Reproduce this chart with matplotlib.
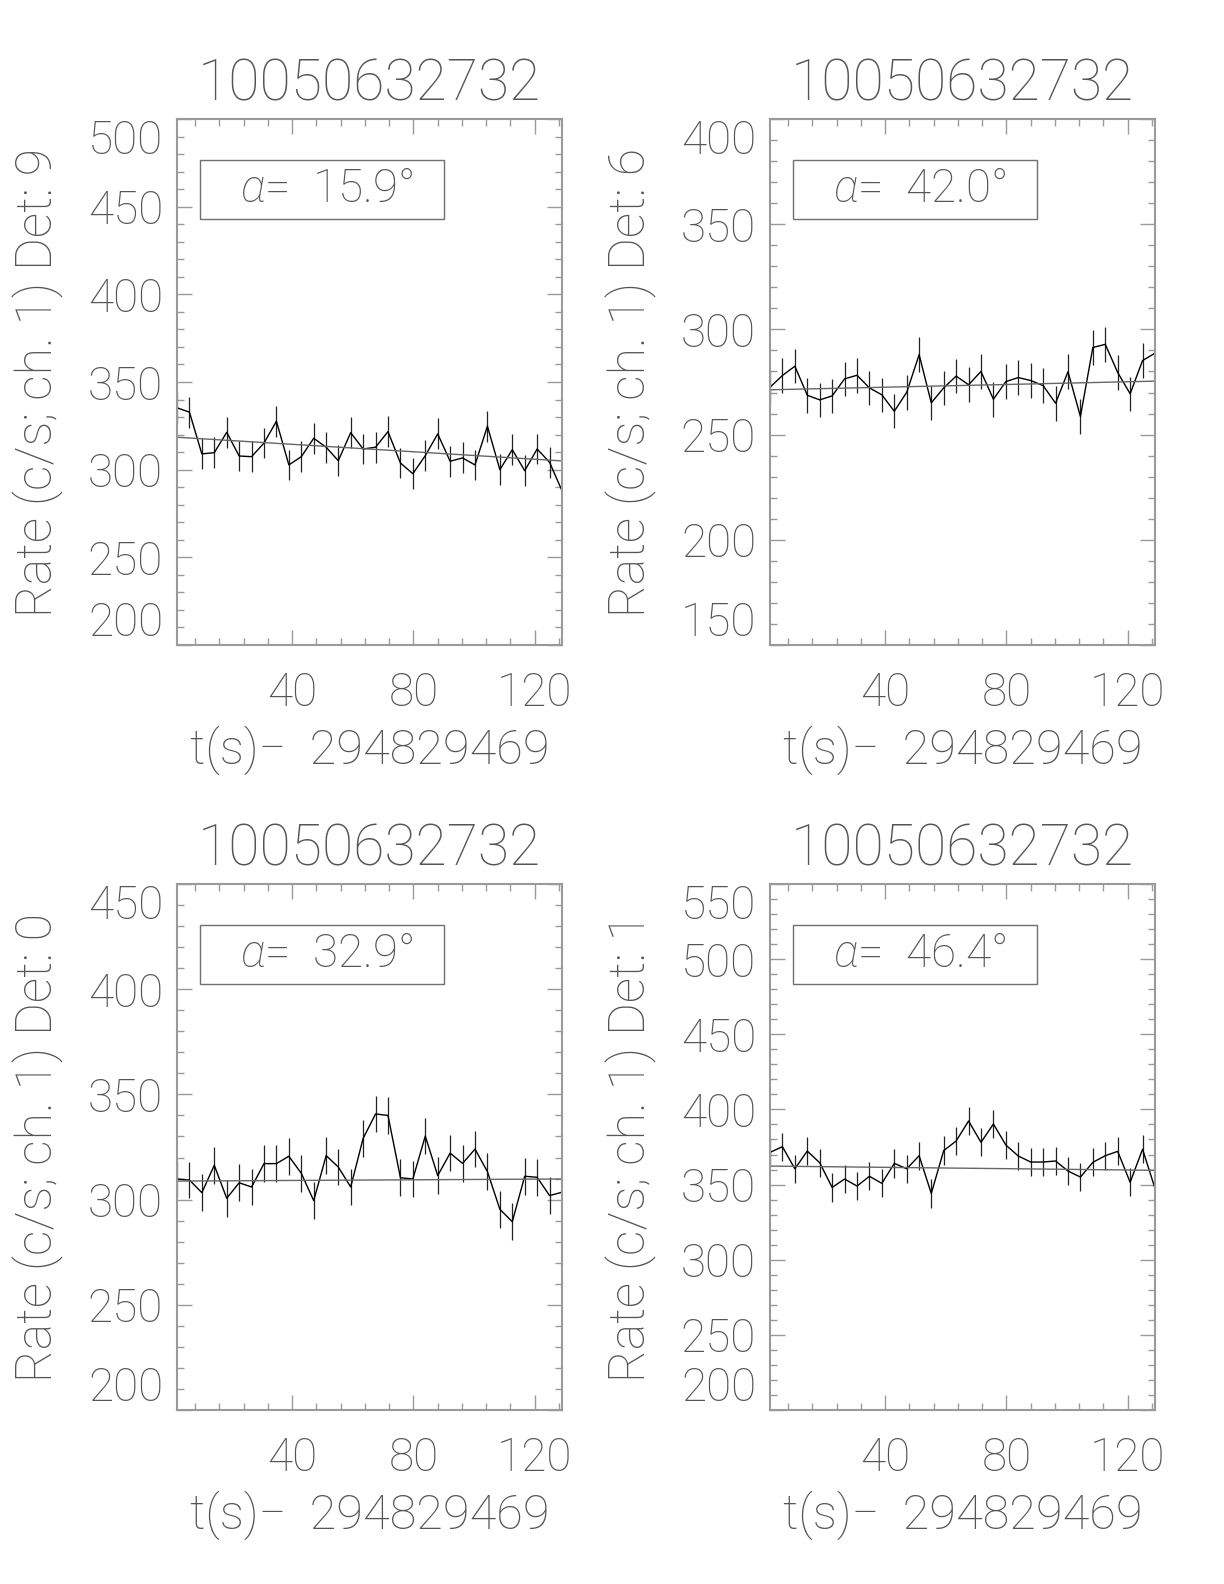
import numpy as np
import matplotlib
matplotlib.use('Agg')
import matplotlib.pyplot as plt
from matplotlib.ticker import MultipleLocator
from matplotlib.patches import Rectangle

plt.rcParams['font.family'] = ['Roboto', 'DejaVu Sans']
plt.rcParams['font.weight'] = 'light'
plt.rcParams['axes.titleweight'] = 'light'
plt.rcParams['axes.labelweight'] = 'light'
plt.rcParams['mathtext.fontset'] = 'custom'
plt.rcParams['mathtext.it'] = 'Roboto:italic:light'
plt.rcParams['mathtext.rm'] = 'Roboto:light'

obs_id = '10050632732'
t_ref = '294829469'

# bin centres, s
t = [2.0, 6.1, 10.2, 14.3, 18.4, 22.5, 26.6, 30.7, 34.8, 38.9, 43.0, 47.1,
     51.2, 55.2, 59.3, 63.4, 67.5, 71.6, 75.7, 79.8, 83.9, 88.0, 92.1, 96.2,
     100.3, 104.4, 108.5, 112.6, 116.7, 120.8, 124.9, 129.0]

det9 = [335.3, 332.8, 309.0, 309.7, 321.3, 307.8, 307.4, 315.2, 327.6, 302.7,
        307.4, 317.9, 312.8, 305.1, 321.1, 311.8, 312.8, 321.7, 303.8, 297.7,
        308.0, 320.4, 304.8, 306.7, 302.7, 324.8, 300.0, 311.4, 299.4, 311.8,
        304.2, 288.0]
det6 = [272.5, 278.1, 282.5, 268.7, 266.5, 268.4, 276.5, 278.2, 272.2, 268.9,
        261.1, 270.1, 288.0, 265.1, 272.2, 277.8, 273.7, 280.0, 266.8, 275.2,
        277.1, 275.7, 273.3, 264.9, 279.9, 258.6, 291.4, 292.9, 279.5, 269.4,
        285.2, 288.7]
det0 = [309.8, 309.3, 303.3, 316.3, 300.6, 308.0, 306.0, 317.1, 317.1, 320.6,
        312.5, 299.5, 320.9, 315.5, 306.0, 329.1, 340.7, 340.0, 310.4, 309.8,
        330.2, 311.4, 322.1, 317.2, 324.0, 313.3, 295.4, 289.5, 311.1, 310.6,
        301.9, 303.5]
det1 = [371.4, 375.2, 360.5, 372.3, 364.5, 348.1, 353.7, 349.0, 355.5, 350.8,
        364.1, 360.5, 369.2, 344.1, 372.6, 379.0, 392.3, 378.1, 390.3, 376.3,
        369.0, 365.0, 365.0, 365.7, 359.0, 355.0, 364.8, 369.2, 372.1, 351.5,
        373.5, 347.5]

dets = ['9', '6', '0', '1']
rates = [det9, det6, det0, det1]
errs = [8.8, 8.2, 8.7, 9.4]
fits = [(318.5, 305.0), (271.3, 275.4), (308.8, 309.8), (362.3, 359.5)]
alphas = ['15.9', '42.0', '32.9', '46.4']
ylims = [(200, 500), (150, 400), (200, 450), (200, 550)]

txt_col = '#555555'
ax_col = '#9a9a9a'

fig = plt.figure(figsize=(12.24, 15.84), dpi=100)
W, H = 1224.0, 1584.0
boxes = [(177, 119), (770, 119), (177, 884), (770, 884)]
aw, ah = 385, 526

for k in range(4):
    x0, y0 = boxes[k]
    ax = fig.add_axes([x0 / W, 1 - (y0 + ah) / H, aw / W, ah / H])
    ax.errorbar(t, rates[k], yerr=errs[k], fmt='none', ecolor='#222222',
                elinewidth=0.9, capsize=0)
    ax.plot(t, rates[k], color='black', lw=1.0)
    ax.plot([t[0], t[-1]], fits[k], color='#666666', lw=1.0)

    lo, hi = ylims[k]
    ax.set_xlim(t[0], t[-1])
    ax.set_ylim(lo, hi)
    ax.xaxis.set_major_locator(MultipleLocator(40))
    ax.xaxis.set_minor_locator(MultipleLocator(8))
    ax.set_yticks(np.arange(lo, hi + 1, 50))
    ax.yaxis.set_minor_locator(MultipleLocator(10))
    ax.tick_params(which='both', direction='in', top=True, right=True,
                   colors=ax_col, labelcolor=txt_col, labelsize=33, width=1)
    ax.tick_params(which='major', length=11)
    ax.tick_params(which='minor', length=5)
    ax.tick_params(axis='x', which='major', pad=19)
    ax.tick_params(axis='y', which='major', pad=10)
    ylabs = ax.get_yticklabels()
    ylabs[0].set_verticalalignment('bottom')
    ylabs[-1].set_verticalalignment('top')
    for s in ax.spines.values():
        s.set_color(ax_col)
        s.set_linewidth(1.5)

    ax.set_title(obs_id, fontsize=41, color=txt_col, pad=13)
    ax.set_xlabel('t(s)\u2212  ' + t_ref, fontsize=35, color=txt_col, labelpad=7)
    ax.set_ylabel('Rate (c/s; ch. 1) Det: ' + dets[k], fontsize=36,
                  color=txt_col, labelpad=17)

    ax.add_patch(Rectangle((0.06, 0.81), 0.633, 0.112, transform=ax.transAxes,
                           fill=False, edgecolor='#707070', lw=1.0))
    ax.text(0.39, 0.866, r'$\alpha$=  ' + alphas[k] + '\u00b0', transform=ax.transAxes,
            ha='center', va='center', fontsize=33, color=txt_col)

fig.savefig('out.png', dpi=100)
